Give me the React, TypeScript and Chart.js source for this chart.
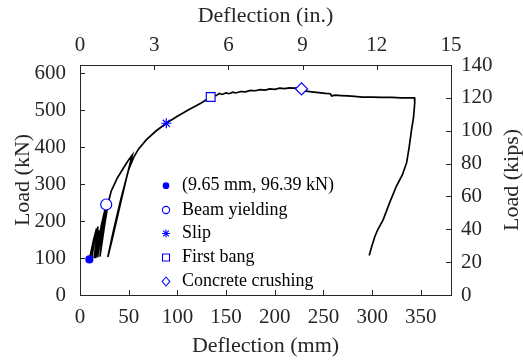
import React, { useEffect, useRef } from 'react';
import { Chart, registerables } from 'chart.js';

Chart.register(...registerables);

// ---------- data ----------
const DEFLECTION_MM = [
  9.65, 14, 17, 12, 15, 18.5, 14.5, 19.5, 16, 22, 26.9, 22, 18, 23, 28, 24, 20.5, 25, 29,
  32, 38, 44, 49, 53.7, 48, 40, 33, 28.6, 34, 42, 50, 55, 60, 68, 78, 88.6, 100, 112, 124,
  134.2, 140, 143, 146, 150, 153, 157, 160, 165, 170, 175, 180, 185, 190, 195, 200, 205,
  210, 215, 220, 224, 227.5, 232, 238, 245, 252, 257, 258.5, 262, 268, 275, 282, 290,
  300, 310, 320, 330, 338, 343.5, 344, 343.5, 342.5, 340.6, 338, 335.5, 331, 325, 318,
  311.4, 306, 302.9, 300, 297,
];
const LOAD_KN = [
  96.39, 150, 180, 100, 150, 185, 100, 175, 100, 190, 245, 170, 102, 180, 250, 180, 104,
  185, 250, 281, 315, 341, 362, 379, 320, 230, 150, 103, 170, 260, 340, 372, 395, 420, 444,
  465, 484, 502, 519, 536, 540, 546, 543, 547, 545, 549, 547, 551, 550, 554, 553, 556, 555,
  558, 557, 560, 559, 561, 560, 561, 558, 552, 550, 548, 546, 545, 539, 541, 540, 539, 538,
  536, 536, 535, 535, 534, 534, 534, 530, 520, 480, 450, 400, 359, 325, 295, 250, 204, 178,
  159, 135, 107,
];

const MARKER_LABELS = ['(9.65 mm, 96.39 kN)', 'Beam yielding', 'Slip', 'First bang', 'Concrete crushing'];
const MARKER_X_MM = [9.65, 26.9, 88.6, 134.2, 227.5];
const MARKER_Y_KN = [96.39, 245, 465, 536, 558];

const X_MM_TICKS = [0, 50, 100, 150, 200, 250, 300, 350];
const X_IN_TICKS = [0, 3, 6, 9, 12, 15];
const Y_KN_TICKS = [0, 100, 200, 300, 400, 500, 600];
const Y_KIPS_TICKS = [0, 20, 40, 60, 80, 100, 120, 140];

const X_MAX_IN = 15;
const X_MAX_MM = 15 * 25.4;
const Y_MAX_KIPS = 140;
const Y_MAX_KN = 140 * 4.44822;

const RIGHT_TITLE = 'Load (kips)';

// ---------- styles ----------
const BLUE = '#0000ff';
const AXIS = '#262626';
const FONT = 'Liberation Serif, Times New Roman, serif';
const MARKER_STYLES = [
  { pointStyle: 'circle', radius: 3.5, fill: BLUE },
  { pointStyle: 'circle', radius: 5.5, fill: '#ffffff' },
  { pointStyle: 'star', radius: 5, fill: '#ffffff' },
  { pointStyle: 'rect', radius: 6.2, fill: '#ffffff' },
  { pointStyle: 'rectRot', radius: 6, fill: '#ffffff' },
];

function drawLegendMarker(ctx: CanvasRenderingContext2D, style: string, filled: boolean, x: number, y: number) {
  ctx.save();
  ctx.strokeStyle = BLUE;
  ctx.fillStyle = filled ? BLUE : '#ffffff';
  ctx.lineWidth = 1.1;
  ctx.beginPath();
  if (style === 'circle') {
    const r = filled ? 2.8 : 3.6;
    ctx.arc(x, y, r, 0, Math.PI * 2);
    ctx.fill();
    ctx.stroke();
  } else if (style === 'star') {
    const r = 4;
    for (let k = 0; k < 4; k++) {
      const a = (k * Math.PI) / 4;
      ctx.moveTo(x - r * Math.cos(a), y - r * Math.sin(a));
      ctx.lineTo(x + r * Math.cos(a), y + r * Math.sin(a));
    }
    ctx.stroke();
  } else if (style === 'rect') {
    ctx.rect(x - 3.5, y - 3.5, 7, 7);
    ctx.fill();
    ctx.stroke();
  } else if (style === 'rectRot') {
    ctx.moveTo(x, y - 4.5);
    ctx.lineTo(x + 3.8, y);
    ctx.lineTo(x, y + 4.5);
    ctx.lineTo(x - 3.8, y);
    ctx.closePath();
    ctx.fill();
    ctx.stroke();
  }
  ctx.restore();
}

const legendPlugin = {
  id: 'innerLegend',
  afterDraw(chart: any) {
    const ctx = chart.ctx as CanvasRenderingContext2D;
    const markerX = 166;
    const textX = 182;
    const rows = [185.7, 210, 233.5, 257.5, 281.5];
    ctx.save();
    ctx.font = `18px ${FONT}`;
    ctx.fillStyle = '#000000';
    ctx.textBaseline = 'middle';
    ctx.textAlign = 'left';
    MARKER_LABELS.forEach((label, i) => {
      const st = MARKER_STYLES[i];
      drawLegendMarker(ctx, st.pointStyle, i === 0, markerX, rows[i]);
      ctx.fillText(label, textX, rows[i]);
    });
    ctx.restore();
  },
};

// right-axis title reads bottom-to-top (as in the reference)
const rightTitlePlugin = {
  id: 'rightTitle',
  afterDraw(chart: any) {
    const ctx = chart.ctx as CanvasRenderingContext2D;
    const s = chart.scales.y2;
    const a = chart.chartArea;
    ctx.save();
    ctx.translate(s.right - 11, (a.top + a.bottom) / 2);
    ctx.rotate(-Math.PI / 2);
    ctx.font = `22px ${FONT}`;
    ctx.fillStyle = AXIS;
    ctx.textAlign = 'center';
    ctx.textBaseline = 'middle';
    ctx.fillText(RIGHT_TITLE, 0, 0);
    ctx.restore();
  },
};

const innerTicksPlugin = {
  id: 'innerTicks',
  afterDraw(chart: any) {
    const ctx = chart.ctx as CanvasRenderingContext2D;
    const a = chart.chartArea;
    const len = 5;
    ctx.save();
    ctx.strokeStyle = AXIS;
    ctx.lineWidth = 1;
    ctx.beginPath();
    Object.values(chart.scales).forEach((s: any) => {
      s.ticks.forEach((t: any) => {
        const p = Math.round(s.getPixelForValue(t.value)) + 0.5;
        if (s.position === 'bottom') { ctx.moveTo(p, a.bottom); ctx.lineTo(p, a.bottom - len); }
        else if (s.position === 'top') { ctx.moveTo(p, a.top); ctx.lineTo(p, a.top + len); }
        else if (s.position === 'left') { ctx.moveTo(a.left, p); ctx.lineTo(a.left + len, p); }
        else if (s.position === 'right') { ctx.moveTo(a.right, p); ctx.lineTo(a.right - len, p); }
      });
    });
    ctx.stroke();
    ctx.restore();
  },
};

function axisCommon(ticks: number[], padding: number, fit: (s: any) => void, titleText: string, titlePad: any, showTitle = true) {
  return {
    type: 'linear' as const,
    afterBuildTicks: (s: any) => { s.ticks = ticks.map((v) => ({ value: v })); },
    afterFit: fit,
    grid: { display: true, drawOnChartArea: false, drawTicks: false },
    border: { display: true, color: AXIS, width: 1 },
    ticks: { color: AXIS, font: { family: FONT, size: 21 }, padding, includeBounds: false, maxRotation: 0, autoSkip: false },
    title: { display: showTitle, text: titleText, color: AXIS, font: { family: FONT, size: 22 }, padding: titlePad },
  };
}

export default function App() {
  const ref = useRef<HTMLCanvasElement | null>(null);

  useEffect(() => {
    if (!ref.current) return;
    const curve = DEFLECTION_MM.map((x, i) => ({ x, y: LOAD_KN[i] }));
    const markerSets = MARKER_LABELS.map((label, i) => ({
      label,
      data: [{ x: MARKER_X_MM[i], y: MARKER_Y_KN[i] }],
      showLine: false,
      pointStyle: MARKER_STYLES[i].pointStyle,
      pointRadius: MARKER_STYLES[i].radius,
      pointBackgroundColor: MARKER_STYLES[i].fill,
      pointBorderColor: BLUE,
      pointBorderWidth: 1.2,
      order: 0,
      xAxisID: 'x',
      yAxisID: 'y',
    }));
    const chart = new Chart(ref.current, {
      type: 'scatter',
      data: {
        datasets: [
          {
            label: 'Load–deflection',
            data: curve,
            showLine: true,
            borderColor: '#000000',
            borderWidth: 1.7,
            pointRadius: 0,
            tension: 0,
            order: 10,
            xAxisID: 'x',
            yAxisID: 'y',
          } as any,
          ...(markerSets as any[]),
        ],
      },
      options: {
        responsive: false,
        animation: false,
        devicePixelRatio: 1,
        layout: { padding: 0 },
        plugins: { legend: { display: false }, tooltip: { enabled: false } },
        scales: {
          x: { ...axisCommon(X_MM_TICKS, 10, (s: any) => { s.height = 65; }, 'Deflection (mm)', { top: 0, bottom: 1 }), position: 'bottom', min: 0, max: X_MAX_MM },
          x2: { ...axisCommon(X_IN_TICKS, 7, (s: any) => { s.height = 65; }, 'Deflection (in.)', { top: 3, bottom: 0 }), position: 'top', min: 0, max: X_MAX_IN },
          y: { ...axisCommon(Y_KN_TICKS, 14, (s: any) => { s.width = 80; }, 'Load (kN)', { top: 10, bottom: 0 }), position: 'left', min: 0, max: Y_MAX_KN },
          y2: { ...axisCommon(Y_KIPS_TICKS, 10, (s: any) => { s.width = 72; }, RIGHT_TITLE, { top: 0, bottom: 0 }, false), position: 'right', min: 0, max: Y_MAX_KIPS },
        } as any,
      },
      plugins: [innerTicksPlugin, legendPlugin, rightTitlePlugin],
    });
    return () => chart.destroy();
  }, []);

  return (
    <div style={{ position: 'absolute', left: 0, top: 0, width: 523, height: 360, background: '#ffffff' }}>
      <canvas ref={ref} width={523} height={360} style={{ display: 'block' }} />
    </div>
  );
}
